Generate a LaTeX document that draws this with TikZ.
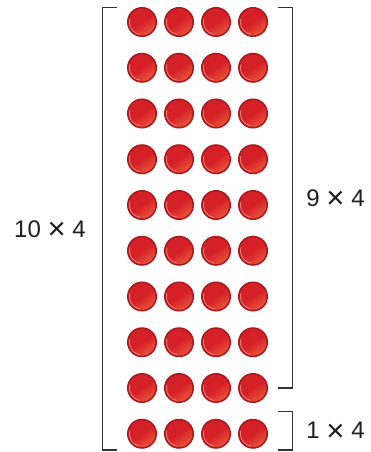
\documentclass[tikz,border=0pt]{standalone}
\usepackage{fontspec}
\setmainfont{Liberation Sans}
\definecolor{ctrRim}{HTML}{A8191F}
\definecolor{ctrA}{HTML}{D62027}
\definecolor{ctrB}{HTML}{E9573B}
\definecolor{ctrHi}{HTML}{EC7A72}
\definecolor{brk}{HTML}{333333}
\definecolor{txt}{HTML}{1E1E1E}
\newcommand{\tms}{\raisebox{-0.11em}{\scalebox{1.3}{×}}}
\begin{document}
\begin{tikzpicture}[x=1pt,y=-1pt,
  counter/.style={circle, minimum size=28.5pt, inner sep=0pt, draw=ctrRim, line width=1.5pt,
    top color=ctrA, bottom color=ctrB, middle color=ctrA, shading angle=35,
    path picture={\draw[ctrHi, line width=0.9pt] (path picture bounding box.center) ++(100:12.6) arc (100:195:12.6);}},
  bracketline/.style={draw=brk, line width=1.3pt},
  lbl/.style={font=\fontsize{24}{24}\selectfont, text=txt, inner sep=0pt, anchor=center}]
\useasboundingbox (0,0) rectangle (370,452);
\foreach \r in {1,...,10} {
  \foreach \c/\x in {1/142,2/179,3/216,4/253} {
    \node[counter] (c-\r-\c) at (\x, {22+45.75*(\r-1)}) {};
  }
}
% brackets
\coordinate (lt) at (117,7.3);
\coordinate (lb) at (117,450);
\draw[bracketline] (lt) -- (102.7,7.3) -- (102.7,450) -- (lb);
\coordinate (rt) at (277.5,7.3);
\coordinate (rb) at (277.5,388);
\draw[bracketline] (rt) -- (292.5,7.3) -- (292.5,388) -- (rb);
\coordinate (st) at (277.5,411.7);
\coordinate (sb) at (277.5,450);
\draw[bracketline] (st) -- (292.5,411.7) -- (292.5,450) -- (sb);
% labels
\node[lbl] (ten) at (50,230) {10 \tms\ 4};
\node[lbl] (nine) at (335.5,199) {9 \tms\ 4};
\node[lbl] (one) at (335.5,432) {1 \tms\ 4};
\end{tikzpicture}
\end{document}
